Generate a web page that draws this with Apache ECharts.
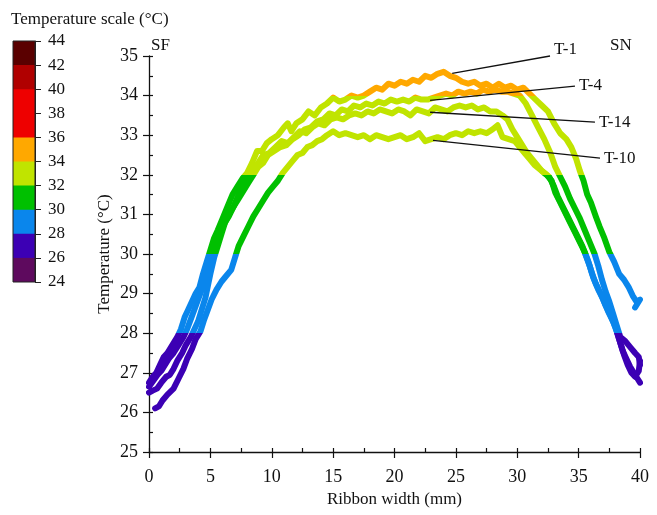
<!DOCTYPE html>
<html><head><meta charset="utf-8">
<script src="https://cdn.jsdelivr.net/npm/echarts@6/dist/echarts.min.js"></script>
<style>html,body{margin:0;padding:0;background:#fff}#c{width:657px;height:515px}</style>
</head><body><div id="c"></div>
<script>
// ---- temperature colour scale ----
const scaleLows   = [24, 26, 28, 30, 32, 34, 36, 38, 40, 42];
const scaleStep   = 2;
const scaleColors = ['#5e0a5e', '#3c00b4', '#0a86ec', '#00c000', '#c0e400', '#ffa800', '#ee0000', '#ee0000', '#b00000', '#5a0000'];

// ---- series names ----
const seriesNames = ['T-1', 'T-4', 'T-14', 'T-10'];

// ---- measured profiles [ribbon width mm, temperature °C] ----
const T1 = [[0,26.75],[0.3,26.9],[0.6,27.0],[0.9,27.2],[1.2,27.4],[1.5,27.5],[1.9,27.7],[2.3,27.9],[2.6,28.1],[2.9,28.4],[3.2,28.6],[3.5,28.8],[3.8,29.0],[4.1,29.15],[4.4,29.5],[4.7,29.8],[5.0,30.1],[5.3,30.4],[5.6,30.6],[6.0,30.9],[6.4,31.2],[6.8,31.5],[7.2,31.7],[7.6,31.9],[8.0,32.05],[8.4,32.3],[8.8,32.6],[9.2,32.6],[9.6,32.8],[10.0,32.9],[10.5,33.0],[11.0,33.2],[11.3,33.3],[11.6,33.1],[12.0,33.3],[12.5,33.4],[13.0,33.6],[13.5,33.5],[14.0,33.7],[14.5,33.8],[15.0,33.95],[15.5,33.85],[16.0,33.9],[16.5,34.0],[17.0,33.95],[17.5,34.0],[18.0,34.1],[18.5,34.2],[19.0,34.15],[19.5,34.3],[20.0,34.25],[20.5,34.35],[21.0,34.3],[21.5,34.4],[22.0,34.35],[22.5,34.5],[23.0,34.45],[23.5,34.55],[24.0,34.6],[24.5,34.5],[25.0,34.45],[25.5,34.35],[26.0,34.3],[26.5,34.35],[27.0,34.25],[27.5,34.3],[28.0,34.2],[28.5,34.3],[29.0,34.2],[29.5,34.25],[30.0,34.15],[30.5,34.2],[31.0,34.05],[31.5,33.9],[32.0,33.75],[32.5,33.6],[33.0,33.3],[33.5,33.05],[34.0,32.9],[34.4,32.7],[34.8,32.4],[35.1,32.1],[35.4,31.85],[35.7,31.5],[36.0,31.3],[36.4,30.95],[36.7,30.7],[37.1,30.4],[37.5,30.05],[37.9,29.8],[38.3,29.5],[38.7,29.35],[39.1,29.15],[39.4,28.95],[39.7,28.8],[40.0,28.85],[39.6,28.65]];
const T4 = [[0,26.5],[0.3,26.55],[0.65,26.6],[1.0,26.75],[1.4,26.9],[1.7,26.95],[2.0,27.1],[2.3,27.3],[2.7,27.5],[3.0,27.7],[3.4,27.9],[3.7,28.1],[4.0,28.3],[4.3,28.6],[4.6,28.9],[4.8,29.2],[5.0,29.5],[5.3,29.9],[5.6,30.2],[5.9,30.5],[6.2,30.8],[6.5,31.0],[6.9,31.2],[7.3,31.4],[7.7,31.6],[8.1,31.8],[8.5,32.0],[8.9,32.2],[9.3,32.3],[9.7,32.5],[10.2,32.6],[10.7,32.7],[11.2,32.75],[11.7,32.9],[12.2,33.0],[12.7,33.15],[13.2,33.2],[13.7,33.35],[14.2,33.4],[14.7,33.55],[15.2,33.5],[15.7,33.65],[16.2,33.6],[16.7,33.75],[17.2,33.7],[17.7,33.8],[18.2,33.75],[18.7,33.85],[19.2,33.8],[19.7,33.9],[20.2,33.85],[20.7,33.9],[21.2,33.85],[21.7,33.95],[22.2,33.9],[22.7,33.9],[23.2,33.95],[23.7,34.0],[24.2,34.05],[24.7,34.0],[25.2,34.1],[25.7,34.05],[26.2,34.1],[26.7,34.05],[27.2,34.15],[27.7,34.1],[28.2,34.15],[28.7,34.1],[29.2,34.1],[29.7,34.05],[30.2,34.0],[30.7,33.8],[31.2,33.5],[31.7,33.2],[32.2,32.9],[32.7,32.55],[33.1,32.2],[33.5,31.95],[33.9,31.7],[34.3,31.4],[34.7,31.15],[35.1,30.9],[35.5,30.6],[35.9,30.3],[36.3,30.0],[36.6,29.7],[36.9,29.35],[37.2,29.05],[37.5,28.8],[37.8,28.5],[38.1,28.2],[38.4,27.9],[38.8,27.8],[39.2,27.65],[39.6,27.5],[39.9,27.4],[40,27.2]];
const T14 = [[0,26.65],[0.35,26.8],[0.7,26.95],[1.0,27.05],[1.3,27.2],[1.6,27.35],[2.0,27.5],[2.4,27.7],[2.8,27.9],[3.1,28.1],[3.4,28.35],[3.7,28.6],[4.0,28.85],[4.3,29.1],[4.6,29.4],[4.9,29.7],[5.2,30.0],[5.5,30.3],[5.8,30.5],[6.1,30.75],[6.5,30.95],[6.9,31.2],[7.3,31.5],[7.7,31.75],[8.1,31.95],[8.5,32.15],[8.9,32.3],[9.3,32.5],[9.8,32.55],[10.3,32.7],[10.8,32.85],[11.3,32.8],[11.8,32.95],[12.3,33.1],[12.8,33.05],[13.3,33.2],[13.8,33.3],[14.3,33.25],[14.8,33.4],[15.3,33.45],[15.8,33.4],[16.3,33.5],[16.8,33.55],[17.3,33.5],[17.8,33.6],[18.3,33.55],[18.8,33.65],[19.3,33.6],[19.8,33.55],[20.3,33.65],[20.8,33.6],[21.3,33.5],[21.8,33.65],[22.3,33.6],[22.8,33.55],[23.3,33.7],[23.8,33.65],[24.3,33.6],[24.8,33.7],[25.3,33.75],[25.8,33.7],[26.3,33.75],[26.8,33.65],[27.3,33.7],[27.8,33.6],[28.3,33.6],[28.8,33.5],[29.2,33.4],[29.6,33.15],[30.0,32.95],[30.4,32.75],[30.8,32.55],[31.2,32.4],[31.6,32.25],[32.0,32.1],[32.4,32.0],[32.8,31.85],[33.1,31.55],[33.5,31.3],[33.9,31.05],[34.3,30.8],[34.7,30.55],[35.1,30.3],[35.5,30.05],[35.8,29.8],[36.1,29.5],[36.4,29.25],[36.8,29.0],[37.2,28.7],[37.6,28.45],[38.0,28.15],[38.3,27.85],[38.6,27.55],[38.9,27.35],[39.2,27.15],[39.5,27.0],[39.8,26.85],[40,26.75]];
const T10 = [[0.5,26.1],[0.8,26.15],[1.1,26.3],[1.5,26.45],[2.0,26.6],[2.4,26.85],[2.8,27.1],[3.1,27.35],[3.5,27.6],[3.8,27.85],[4.2,28.05],[4.5,28.35],[4.8,28.6],[5.1,28.85],[5.5,29.1],[5.9,29.3],[6.3,29.45],[6.7,29.6],[7.0,29.9],[7.3,30.2],[7.7,30.45],[8.1,30.7],[8.5,30.95],[8.9,31.15],[9.3,31.35],[9.7,31.55],[10.1,31.7],[10.5,31.85],[10.9,32.05],[11.3,32.2],[11.7,32.35],[12.1,32.5],[12.5,32.55],[12.9,32.7],[13.3,32.75],[13.7,32.85],[14.1,32.9],[14.5,33.0],[15.0,33.1],[15.5,33.0],[16.0,33.05],[16.5,33.0],[17.0,32.95],[17.5,33.0],[18.0,32.9],[18.5,33.0],[19.0,32.95],[19.5,32.9],[20.0,32.95],[20.5,33.0],[21.0,32.9],[21.5,32.95],[22.0,33.05],[22.5,32.85],[23.0,32.9],[23.5,32.95],[24.0,32.9],[24.5,33.0],[25.0,33.05],[25.5,33.0],[26.0,33.1],[26.5,33.05],[27.0,33.1],[27.5,33.05],[28.0,33.15],[28.4,33.25],[28.8,32.95],[29.3,32.9],[29.8,32.85],[30.2,32.7],[30.6,32.55],[31.0,32.4],[31.4,32.25],[31.8,32.15],[32.2,32.05],[32.6,31.95],[33.0,31.7],[33.3,31.45],[33.7,31.2],[34.1,30.95],[34.5,30.7],[34.9,30.45],[35.3,30.2],[35.6,29.95],[35.9,29.7],[36.2,29.4],[36.6,29.1],[37.0,28.85],[37.4,28.55],[37.8,28.3],[38.1,28.05],[38.4,27.75],[38.7,27.45],[39.0,27.2],[39.3,27.0],[39.6,26.9],[39.9,27.05],[40,27.3]];

// ---- annotation leader lines: [point on curve, label end] in data units ----
const leaderLines = [
  [[24.7, 34.56], [32.67, 35.0]],
  [[22.9, 33.88], [34.7, 34.24]],
  [[22.9, 33.58], [36.33, 33.33]],
  [[23.14, 32.87], [36.74, 32.42]]
];

const FONT = "'Liberation Serif','Times New Roman',serif";
const profiles = [T1, T4, T14, T10];

const chart = echarts.init(document.getElementById('c'), null, {renderer: 'canvas'});

const pieces = scaleLows.map((lo, i) => ({min: lo, max: lo + scaleStep, color: scaleColors[i]}));

const lineSeries = profiles.map((d, i) => ({
  name: seriesNames[i],
  type: 'line',
  xAxisIndex: 0, yAxisIndex: 0,
  data: d,
  showSymbol: false,
  symbol: 'none',
  clip: false,
  lineStyle: {width: 6, cap: 'round', join: 'round'},
  z: 2,
  markLine: {
    silent: true,
    symbol: 'none',
    lineStyle: {color: '#111', width: 1.3, type: 'solid'},
    label: {show: true, position: 'end', formatter: seriesNames[i], color: '#111', fontFamily: FONT, fontSize: 17, distance: 4,
            offset: i === 0 ? [0, -6] : [0, 0]},
    data: [[{coord: leaderLines[i][0]}, {coord: leaderLines[i][1]}]]
  }
}));

// colour-scale blocks: each block is a bar reaching its upper bound, overlapped, clipped at 24
const scaleSeries = scaleLows.map((lo, i) => i).reverse().map(i => ({
  type: 'bar',
  xAxisIndex: 1, yAxisIndex: 1,
  barWidth: '100%',
  barGap: '-100%',
  data: [scaleLows[i] + scaleStep],
  itemStyle: {color: scaleColors[i]},
  silent: true
}));

chart.setOption({
  animation: false,
  backgroundColor: '#fff',
  textStyle: {fontFamily: FONT},
  title: {text: 'Temperature scale (°C)', left: 6, top: 6, textStyle: {fontFamily: FONT, fontSize: 17, fontWeight: 'normal', color: '#111'}},
  graphic: [
    {type: 'text', left: 151, top: 37, style: {text: 'SF', font: "17px 'Liberation Serif', serif", fill: '#111'}},
    {type: 'text', left: 610, top: 37, style: {text: 'SN', font: "17px 'Liberation Serif', serif", fill: '#111'}}
  ],
  grid: [
    {left: 149, right: 17, top: 56, bottom: 63},
    {left: 13, width: 22, top: 41, height: 241, show: true, borderColor: '#222', borderWidth: 1, backgroundColor: 'transparent', z: 10}
  ],
  visualMap: {
    type: 'piecewise', show: false, dimension: 1, seriesIndex: [0, 1, 2, 3], pieces: pieces
  },
  xAxis: [
    {type: 'value', gridIndex: 0, min: 0, max: 40, interval: 5,
     name: 'Ribbon width (mm)', nameLocation: 'middle', nameGap: 38,
     nameTextStyle: {fontFamily: FONT, fontSize: 17, color: '#111'},
     axisLine: {show: true, onZero: false, lineStyle: {color: '#111', width: 1.3}},
     axisTick: {show: true, inside: false, length: 6, lineStyle: {color: '#111', width: 1.2}},
     axisLabel: {fontFamily: FONT, fontSize: 18, color: '#111', margin: 16},
     splitLine: {show: false}},
    {type: 'category', gridIndex: 1, data: ['scale'], show: false},
    {type: 'value', gridIndex: 0, min: 0, max: 40, interval: 2.5, position: 'bottom',
     axisLine: {show: false, onZero: false},
     axisTick: {show: true, inside: true, length: 4, lineStyle: {color: '#111', width: 1.2}},
     axisLabel: {show: false}, splitLine: {show: false}}
  ],
  yAxis: [
    {type: 'value', gridIndex: 0, min: 25, max: 35, interval: 1,
     name: 'Temperature (°C)', nameLocation: 'middle', nameGap: 36, nameRotate: 90, nameMoveOverlap: false,
     nameTextStyle: {fontFamily: FONT, fontSize: 17, color: '#111'},
     axisLine: {show: true, onZero: false, lineStyle: {color: '#111', width: 1.3}},
     axisTick: {show: true, inside: false, length: 6, lineStyle: {color: '#111', width: 1.2}},
     axisLabel: {fontFamily: FONT, fontSize: 18, color: '#111', margin: 11},
     splitLine: {show: false}},
    {type: 'value', gridIndex: 1, min: 24, max: 44, interval: 2, position: 'right',
     axisLine: {show: true, lineStyle: {color: '#222', width: 1}},
     axisTick: {show: true, inside: false, length: 6, lineStyle: {color: '#222', width: 1}},
     axisLabel: {fontFamily: FONT, fontSize: 17, color: '#111', margin: 13},
     splitLine: {show: false}},
    {type: 'value', gridIndex: 0, min: 25, max: 35, interval: 0.5, position: 'left',
     axisLine: {show: false, onZero: false},
     axisTick: {show: true, inside: true, length: 4, lineStyle: {color: '#111', width: 1.2}},
     axisLabel: {show: false}, splitLine: {show: false}}
  ],
  series: lineSeries.concat(scaleSeries)
});
</script>
</body></html>
